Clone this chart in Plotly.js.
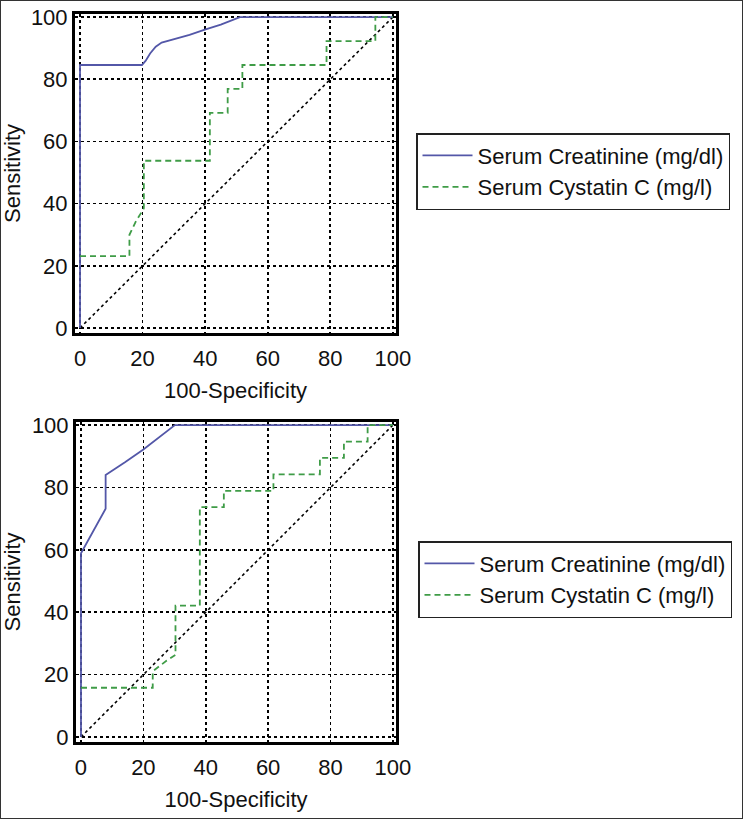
<!DOCTYPE html>
<html>
<head>
<meta charset="utf-8">
<script src="https://cdn.plot.ly/plotly-3.0.1.min.js"></script>
<style>
  html, body { margin: 0; padding: 0; background: #ffffff; }
  #frame { width: 743px; height: 819px; box-sizing: border-box; border: 1px solid #333; position: relative; overflow: hidden; }
  #chart { position: absolute; left: -1px; top: -1px; width: 743px; height: 819px; }
</style>
</head>
<body>
<div id="frame"><div id="chart"></div></div>
<script>
// ---- data ----
const tickVals = [0, 20, 40, 60, 80, 100];
const seriesNames = ['Serum Creatinine (mg/dl)', 'Serum Cystatin C (mg/l)'];
const xTitle = '100-Specificity';
const yTitle = 'Sensitivity';

const diagX = [0, 100];
const diagY = [0, 100];

// Top panel
const topCreatX = [0, 0, 19.8, 21.0, 22.4, 24.2, 26.1, 29.8, 35.0, 39.9, 45.0, 51.1, 100];
const topCreatY = [0, 84.6, 84.6, 86.0, 88.3, 90.5, 91.8, 92.8, 94.3, 96.0, 97.6, 100, 100];
const topCystX = [0, 15.8, 15.8, 17.9, 20.0, 20.4, 20.4, 41.5, 41.5, 47.2, 47.2, 51.9, 51.9, 78.8, 78.8, 94.4, 94.4, 100];
const topCystY = [23.1, 23.1, 30.0, 34.4, 37.8, 38.5, 53.8, 53.8, 69.2, 69.2, 76.9, 76.9, 84.6, 84.6, 92.3, 92.3, 100, 100];

// Bottom panel
const botCreatX = [0, 0, 7.9, 7.9, 14.1, 20.0, 30.1, 100];
const botCreatY = [0, 58.9, 73.2, 84.0, 88.1, 92.2, 100, 100];
const botCystX = [0, 23.0, 23.0, 27.5, 30.3, 30.3, 38.1, 38.1, 45.8, 45.8, 61.7, 61.7, 76.6, 76.6, 84.3, 84.3, 91.9, 91.9, 100];
const botCystY = [15.8, 15.8, 21.1, 24.5, 26.3, 42.1, 42.1, 73.7, 73.7, 78.9, 78.9, 84.2, 84.2, 89.5, 89.5, 94.7, 94.7, 100, 100];

// ---- styling ----
const FONT = '"Liberation Sans", Arial, Helvetica, sans-serif';
const blue = '#5357a8';
const green = '#3f9c47';

const traces = [
  {x: diagX, y: diagY, xaxis: 'x', yaxis: 'y', mode: 'lines', showlegend: false, hoverinfo: 'skip',
   line: {color: '#000', width: 1.6, dash: 'dot'}},
  {x: topCreatX, y: topCreatY, xaxis: 'x', yaxis: 'y', mode: 'lines', name: seriesNames[0], legend: 'legend',
   line: {color: blue, width: 1.8}},
  {x: topCystX, y: topCystY, xaxis: 'x', yaxis: 'y', mode: 'lines', name: seriesNames[1], legend: 'legend',
   line: {color: green, width: 1.8, dash: '6px,4px'}},
  {x: diagX, y: diagY, xaxis: 'x2', yaxis: 'y2', mode: 'lines', showlegend: false, hoverinfo: 'skip',
   line: {color: '#000', width: 1.6, dash: 'dot'}},
  {x: botCreatX, y: botCreatY, xaxis: 'x2', yaxis: 'y2', mode: 'lines', name: seriesNames[0], legend: 'legend2',
   line: {color: blue, width: 1.8}},
  {x: botCystX, y: botCystY, xaxis: 'x2', yaxis: 'y2', mode: 'lines', name: seriesNames[1], legend: 'legend2',
   line: {color: green, width: 1.8, dash: '6px,4px'}}
];

function axis(domain, anchor, title, standoff, labelStandoff) {
  return {
    domain: domain, anchor: anchor, range: [-1.6, 101],
    tickvals: tickVals, ticks: '', showline: true, mirror: true,
    linecolor: '#000', linewidth: 3,
    showgrid: true, gridcolor: '#000', gridwidth: 1.6, griddash: 'dot',
    zeroline: false, automargin: false, fixedrange: true,
    ticklabelstandoff: labelStandoff,
    tickfont: {family: FONT, size: 22, color: '#111'},
    title: {text: title, font: {family: FONT, size: 22, color: '#111'}, standoff: standoff}
  };
}

const legendStyle = (x, y) => ({
  x: x, y: y, xanchor: 'left', yanchor: 'top', xref: 'paper', yref: 'paper',
  bgcolor: '#fff', bordercolor: '#222', borderwidth: 1.5, itemwidth: 50,
  font: {family: FONT, size: 22, color: '#111'}, tracegroupgap: 0
});

const layout = {
  width: 743, height: 819,
  margin: {l: 0, r: 0, t: 0, b: 0},
  paper_bgcolor: '#fff', plot_bgcolor: '#fff',
  showlegend: true,
  xaxis: axis([75/743, 396/743], 'y', xTitle, 13, 4),
  yaxis: axis([486/819, 805/819], 'x', yTitle, 6, 0),
  xaxis2: axis([76/743, 396/743], 'y2', xTitle, 13, 4),
  yaxis2: axis([77/819, 397/819], 'x2', yTitle, 6, 0),
  legend: legendStyle(416/743, 1 - 133/819),
  legend2: legendStyle(418/743, 1 - 541/819)
};

Plotly.newPlot('chart', traces, layout, {staticPlot: true, displayModeBar: false});
</script>
</body>
</html>
